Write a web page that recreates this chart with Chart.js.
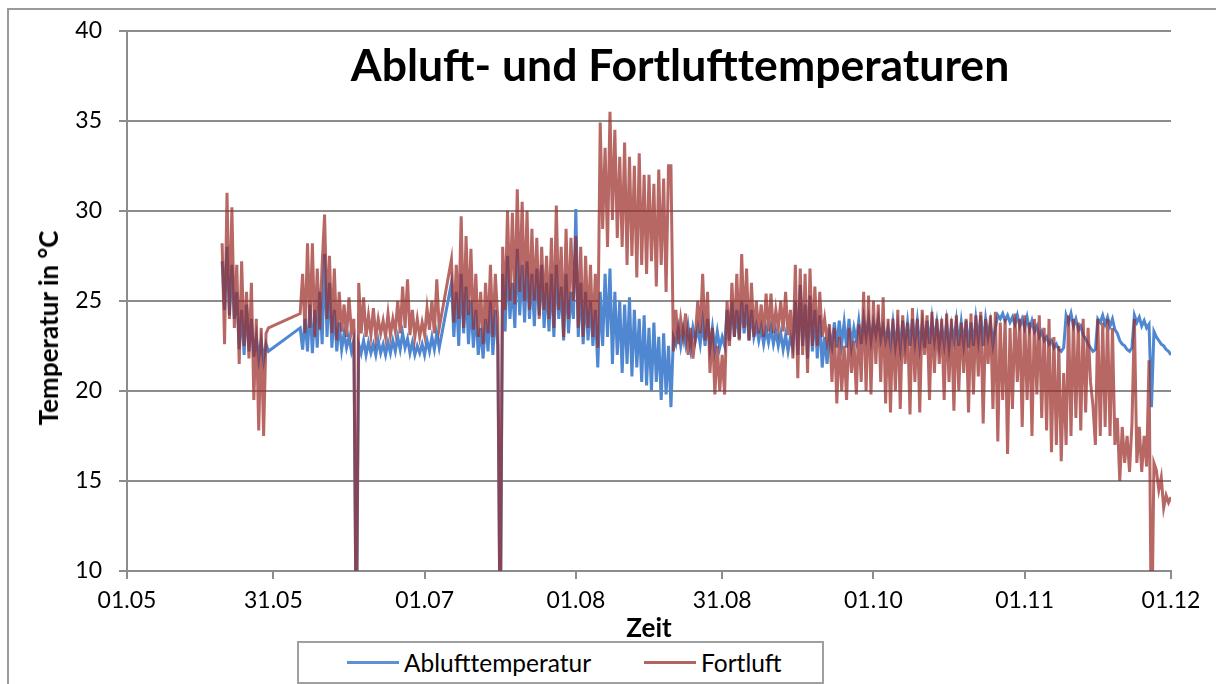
<!DOCTYPE html>
<html lang="de">
<head>
    <meta charset="UTF-8">
    <title>Abluft- und Fortlufttemperaturen</title>
    <script src="https://cdn.jsdelivr.net/npm/chart.js"></script>
    <style>
        body { margin: 0; background: #fff; width: 1216px; height: 684px; overflow: hidden; position: relative; font-family: Lato, sans-serif; }
        #rahmen { position: absolute; left: 7px; top: 8px; width: 1300px; height: 800px; border-left: 2px solid #9a9a9a; border-top: 2px solid #9a9a9a; }
        #temperaturchart { position: absolute; left: 0; top: 0; }
        #titel { position: absolute; left: 280px; top: 42px; width: 800px; text-align: center; font: bold 44.5px/44px Lato, sans-serif; color: #000; }
        #ytitel { position: absolute; left: 48px; top: 328px; transform: translate(-50%, -50%) rotate(-90deg); white-space: nowrap; font: bold 26px Lato, sans-serif; color: #000; }
        #legende { position: absolute; left: 297px; top: 641px; width: 523px; height: 39px; border: 2px solid #a0a0a0; background: #fff; }
        .eintrag { position: absolute; top: 0; height: 39px; line-height: 39px; font-size: 24.5px; color: #000; }
        .strich { position: absolute; top: 18px; height: 3px; width: 52px; }
    </style>
</head>
<body>
    <div id="rahmen"></div>
    <canvas id="temperaturchart" width="1216" height="684"></canvas>
    <div id="titel">Abluft- und Fortlufttemperaturen</div>
    <div id="ytitel">Temperatur in °C</div>
    <div id="legende">
        <span class="strich" style="left:48px;background:rgb(92,145,214)"></span>
        <span class="eintrag" style="left:105px">Ablufttemperatur</span>
        <span class="strich" style="left:345px;background:rgb(180,100,96)"></span>
        <span class="eintrag" style="left:402px">Fortluft</span>
    </div>
    <script>
        // Achse: Tage ab 01.05.
        const tickTage = [0, 30, 61, 92, 122, 153, 184, 214];
        const tickLabels = ['01.05', '31.05', '01.07', '01.08', '31.08', '01.10', '01.11', '01.12'];
        const yTicks = [10, 15, 20, 25, 30, 35, 40];

        // Messzeitraeume (Start in Tagen ab 01.05., ein Wert alle 12 h)
        const startA = 19.5, startB = 35.5, startC = 66.5;
        const schrittTage = 0.5;

        const abluftA = [27.2, 24.5, 28.0, 24.2, 27.0, 24.0, 25.5, 22.3, 24.5, 22.0,
                         24.8, 22.2, 24.0, 21.9, 23.0, 21.8, 22.8, 21.7, 22.6, 22.2];
        const fortluftA = [28.2, 22.6, 31.0, 24.0, 30.2, 23.5, 27.0, 21.5, 27.2, 22.5,
                           25.5, 21.8, 26.0, 19.5, 24.0, 17.8, 23.5, 17.5, 23.2, 23.5];

        const abluftB = [23.5, 22.3, 24.0, 22.2, 24.8, 22.1, 24.5, 22.4, 25.5, 22.6,
                         27.6, 23.0, 26.0, 22.4, 24.5, 22.2, 23.8, 22.3, 23.2, 22.4,
                         23.0, 22.2, 22.8, 5, 22.6, 22.1, 22.8, 22.0, 22.7, 22.1,
                         22.6, 22.0, 22.8, 22.1, 22.6, 22.0, 22.7, 22.1, 22.8, 22.2,
                         23.0, 22.3, 23.2, 22.4, 22.9, 22.1, 22.7, 22.0, 22.5, 22.1,
                         22.6, 22.0, 22.8, 22.2, 23.0, 22.3, 23.2, 22.4];
        const fortluftB = [24.3, 26.5, 23.2, 28.2, 23.5, 28.2, 23.0, 26.8, 23.4, 27.0,
                           29.8, 24.0, 27.5, 23.2, 26.8, 22.8, 25.5, 23.3, 24.8, 23.0,
                           25.2, 23.3, 24.0, 5, 26.0, 23.2, 25.2, 23.0, 24.2, 23.1,
                           24.6, 23.0, 24.0, 23.2, 23.9, 23.0, 24.3, 23.1, 24.0, 23.3,
                           25.0, 23.2, 25.8, 23.5, 26.2, 23.1, 24.5, 23.0, 24.0, 23.0,
                           23.8, 23.1, 24.6, 23.4, 25.0, 23.2, 26.2, 23.5];

        const abluftC = [26.0, 23.0, 25.5, 22.5, 26.5, 23.2, 25.8, 22.6, 25.0, 22.4,
                         24.5, 22.0, 23.5, 21.8, 24.0, 22.2, 25.0, 22.0, 24.5, 22.5,
                         5, 26.5, 23.3, 27.5, 24.0, 26.0, 23.5, 27.9, 24.2, 27.0,
                         23.8, 27.2, 24.0, 26.5, 23.6, 26.8, 24.2, 27.0, 23.5, 26.0,
                         23.3, 26.5, 23.0, 27.0, 24.0, 25.8, 22.8, 26.5, 23.2, 25.5,
                         24.0, 30.1, 23.0, 26.0, 22.6, 25.5, 22.8, 25.0, 22.5, 24.5,
                         21.3, 25.5, 22.5, 26.5, 23.0, 26.8, 21.5, 25.5, 22.0, 25.0,
                         21.0, 24.8, 21.5, 25.2, 20.8, 24.5, 21.3, 24.0, 20.5, 24.2,
                         20.3, 23.5, 20.0, 23.8, 20.5, 23.0, 19.5, 23.2, 19.8, 22.5,
                         19.1, 23.0, 22.6, 23.5, 22.5, 23.4, 22.6, 23.6, 22.4, 23.5,
                         22.8, 23.5, 22.6, 23.8, 22.5, 24.0, 22.4, 23.5, 22.3, 23.3,
                         22.4, 23.0, 22.5, 24.5, 22.8, 25.0, 23.0, 24.5, 22.9, 25.0,
                         23.2, 24.8, 22.8, 24.5, 23.0, 23.6, 22.8, 23.5, 22.6, 23.4,
                         22.7, 23.5, 22.6, 23.3, 22.5, 23.2, 22.3, 23.1, 22.2, 23.0,
                         22.4, 25.0, 22.0, 25.9, 22.5, 24.8, 21.8, 25.3, 22.2, 24.5,
                         21.8, 24.2, 21.3, 23.0, 21.5, 23.2, 22.5, 23.8, 22.4, 23.9,
                         22.6, 23.8, 22.4, 24.0, 22.5, 23.5, 22.8, 23.9, 22.6, 24.0,
                         23.0, 24.0, 22.8, 23.8, 23.1, 24.0, 22.9, 23.6, 22.8, 23.5,
                         22.6, 23.8, 22.5, 23.6, 22.4, 23.9, 22.6, 23.8, 22.5, 24.0,
                         22.7, 23.9, 22.5, 23.7, 22.4, 23.9, 22.6, 24.0, 22.8, 23.8,
                         22.5, 23.6, 22.6, 23.8, 22.4, 23.6, 22.8, 23.9, 22.5, 23.8,
                         22.6, 23.9, 22.4, 23.8, 22.5, 24.0, 22.8, 24.2, 22.5, 24.0,
                         23.0, 23.8, 22.6, 23.5, 24.2, 24.0, 24.3, 23.9, 24.2, 23.8,
                         24.1, 23.7, 24.2, 23.6, 24.0, 23.5, 24.1, 23.4, 23.9, 23.3,
                         23.6, 23.0, 23.3, 22.8, 23.0, 22.6, 22.8, 22.4, 22.6, 22.3,
                         22.2, 22.4, 24.2, 23.8, 24.3, 23.6, 24.0, 23.4, 23.6, 23.1,
                         22.9, 22.6, 22.4, 22.2, 22.3, 24.0, 23.8, 24.2, 23.7, 24.1,
                         23.6, 24.0, 23.4, 23.2, 22.8, 22.6, 22.5, 22.3, 22.2, 22.4,
                         24.2, 23.8, 24.1, 23.6, 23.9, 23.5, 23.7, 19.1, 23.3, 23.0,
                         22.8, 22.6, 22.5, 22.3, 22.2, 22.0];
        const fortluftC = [27.3, 23.8, 27.0, 24.0, 29.7, 23.5, 28.6, 24.2, 27.9, 23.4,
                           26.5, 23.0, 25.5, 22.6, 26.0, 23.2, 27.0, 23.0, 26.5, 24.0,
                           5, 28.0, 24.5, 30.0, 25.0, 29.9, 24.8, 31.2, 25.5, 30.5,
                           25.0, 30.0, 24.5, 29.0, 25.0, 28.5, 24.0, 28.0, 24.5, 27.5,
                           24.0, 28.5, 23.5, 30.3, 24.5, 28.0, 23.0, 29.0, 24.0, 28.5,
                           25.0, 28.6, 23.5, 28.0, 23.0, 27.5, 23.5, 27.0, 23.0, 26.5,
                           22.4, 34.9, 29.0, 33.5, 28.0, 35.5, 29.5, 34.5, 28.5, 33.0,
                           28.0, 33.8, 27.0, 33.0, 27.5, 32.5, 26.3, 33.2, 27.0, 32.0,
                           26.5, 32.0, 27.2, 31.5, 25.8, 32.3, 27.0, 31.8, 25.5, 32.5,
                           32.5, 22.2, 24.5, 22.6, 24.0, 23.0, 24.3, 22.0, 23.5, 21.8,
                           23.0, 25.0, 23.2, 26.5, 22.8, 25.5, 21.0, 23.5, 19.8, 22.5,
                           20.0, 22.0, 19.8, 25.0, 22.5, 26.0, 23.0, 26.5, 22.8, 27.6,
                           23.5, 26.8, 22.8, 26.0, 23.0, 25.0, 23.2, 24.8, 23.0, 25.4,
                           23.3, 25.4, 23.2, 24.5, 23.5, 25.0, 23.3, 25.5, 23.1, 24.5,
                           21.8, 27.0, 20.7, 26.8, 22.0, 26.5, 21.0, 26.8, 22.5, 25.8,
                           22.5, 25.5, 23.0, 24.0, 22.8, 23.7, 20.5, 23.5, 19.3, 23.0,
                           20.0, 22.5, 19.5, 23.5, 21.0, 22.8, 19.8, 23.7, 20.5, 25.5,
                           20.0, 25.3, 19.8, 25.0, 21.5, 24.8, 20.5, 25.2, 19.3, 24.0,
                           18.8, 24.0, 20.0, 24.5, 19.0, 24.2, 21.5, 23.8, 18.7, 24.6,
                           20.5, 24.0, 18.8, 24.5, 22.0, 24.2, 19.5, 24.4, 21.0, 24.0,
                           21.5, 24.0, 19.5, 24.3, 20.5, 24.0, 18.9, 24.2, 20.0, 23.8,
                           21.0, 24.0, 18.8, 24.3, 19.8, 24.2, 20.8, 24.4, 18.2, 24.0,
                           21.5, 24.2, 19.0, 24.4, 17.2, 23.8, 19.5, 24.0, 16.5, 23.5,
                           19.0, 24.3, 20.5, 24.0, 18.0, 24.2, 19.5, 23.8, 17.5, 24.0,
                           19.8, 24.2, 18.5, 23.5, 17.8, 24.0, 16.6, 23.0, 17.0, 22.5,
                           16.1, 21.0, 17.0, 24.2, 17.5, 24.0, 18.5, 23.8, 17.8, 24.0,
                           18.8, 23.5, 20.5, 19.2, 17.0, 24.0, 17.5, 23.8, 18.0, 24.0,
                           17.5, 23.5, 17.0, 18.5, 15.0, 18.0, 16.0, 17.5, 15.5, 18.2,
                           24.0, 16.0, 18.0, 15.5, 17.5, 15.8, 21.7, 5, 16.0, 15.6,
                           14.5, 15.2, 13.5, 14.2, 13.8, 14.1];

        const blau = 'rgb(79,135,208)';
        const rot = 'rgba(155,45,40,0.72)';
        const grau = '#8c8c8c';

        function punkte(start, werte) {
            return werte.map((v, i) => ({ x: start + i * schrittTage, y: v }));
        }

        const abluft = [...punkte(startA, abluftA), ...punkte(startB, abluftB), ...punkte(startC, abluftC)];
        const fortluft = [...punkte(startA, fortluftA), ...punkte(startB, fortluftB), ...punkte(startC, fortluftC)];

        const ctx = document.getElementById('temperaturchart').getContext('2d');
        new Chart(ctx, {
            type: 'line',
            data: {
                datasets: [{
                    label: 'Ablufttemperatur',
                    data: abluft,
                    borderColor: blau,
                    borderWidth: 3,
                    pointRadius: 0,
                    order: 1
                }, {
                    label: 'Fortluft',
                    data: fortluft,
                    borderColor: rot,
                    borderWidth: 3,
                    pointRadius: 0,
                    order: 0
                }]
            },
            options: {
                responsive: false,
                animation: false,
                layout: { padding: { left: 0, top: 28, right: 45, bottom: 0 } },
                plugins: {
                    legend: { display: false },
                    tooltip: { enabled: false }
                },
                scales: {
                    x: {
                        type: 'linear',
                        min: 0,
                        max: 214,
                        afterBuildTicks: s => { s.ticks = tickTage.map(v => ({ value: v })); },
                        afterFit: s => { s.height = 113; },
                        ticks: {
                            callback: (v, i) => tickLabels[i],
                            autoSkip: false,
                            maxRotation: 0,
                            padding: 8,
                            color: '#000',
                            font: { family: 'Lato', size: 23 }
                        },
                        grid: { drawOnChartArea: false, tickLength: 8, color: grau, lineWidth: 2 },
                        border: { color: grau, width: 2 },
                        title: {
                            display: true,
                            text: 'Zeit',
                            color: '#000',
                            font: { family: 'Lato', size: 26, weight: 'bold' },
                            padding: { top: 0, bottom: 40 }
                        }
                    },
                    y: {
                        min: 10,
                        max: 40,
                        afterBuildTicks: s => { s.ticks = yTicks.map(v => ({ value: v })); },
                        afterFit: s => { s.width = 127; },
                        ticks: {
                            padding: 17,
                            color: '#000',
                            font: { family: 'Lato', size: 23 }
                        },
                        grid: { tickLength: 8, color: grau, lineWidth: 2 },
                        border: { color: grau, width: 2 }
                    }
                }
            }
        });
    </script>
</body>
</html>
